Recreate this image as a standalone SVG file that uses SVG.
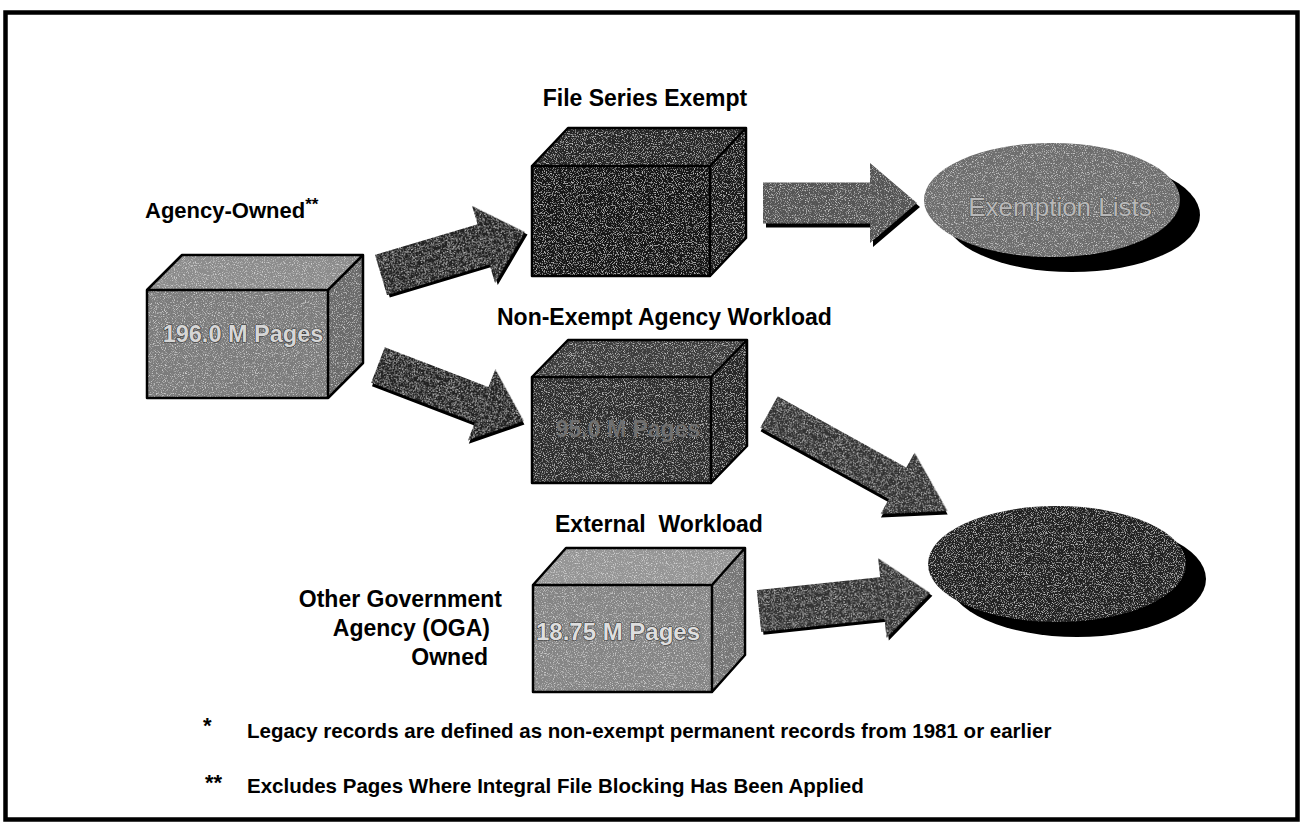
<svg xmlns="http://www.w3.org/2000/svg" width="1304" height="825" viewBox="0 0 1304 825">
<defs>
<filter id="grain" x="0" y="0" width="1" height="1">
  <feTurbulence type="fractalNoise" baseFrequency="0.9" numOctaves="2" seed="7" result="noise"/>
  <feColorMatrix in="noise" type="matrix" values="0 0 0 0 1  0 0 0 0 1  0 0 0 0 1  4 0 0 0 -2.1" result="dots"/>
  <feComposite in="dots" in2="SourceAlpha" operator="in" result="d2"/>
  <feComponentTransfer in="d2" result="d3"><feFuncA type="linear" slope="0.5"/></feComponentTransfer>
  <feMerge><feMergeNode in="SourceGraphic"/><feMergeNode in="d3"/></feMerge>
</filter>
</defs>
<style>
text{font-family:"Liberation Sans",Arial,sans-serif;font-weight:bold;fill:#000}
.title{font-size:23px}
.foot{font-size:20.5px}
.edge{fill:none;stroke:#000;stroke-width:2.5;stroke-linejoin:round}
.shadow{fill:#000}
.tex{filter:url(#grain)}
.lbl{font-size:23.5px;stroke-width:1.2;paint-order:stroke;stroke-linejoin:round}
</style>
<rect x="5.5" y="12.5" width="1292" height="807" fill="#fff" stroke="#000" stroke-width="4.5"/>

<g id="connectors">
  <g id="arrow-owned-exempt" transform="translate(381,275) rotate(-16.6)">
    <path class="shadow" transform="translate(2,3)" d="M0,-21 L107,-21 L107,-40 L150,0 L107,40 L107,21 L0,21 Z"/>
    <path class="tex" fill="#222" d="M0,-21 L107,-21 L107,-40 L150,0 L107,40 L107,21 L0,21 Z"/>
  </g>
  <g id="arrow-owned-nonexempt" transform="translate(378,365) rotate(21)">
    <path class="shadow" transform="translate(2,3)" d="M0,-19 L111,-19 L111,-38 L156,0 L111,38 L111,19 L0,19 Z"/>
    <path class="tex" fill="#222" d="M0,-19 L111,-19 L111,-38 L156,0 L111,38 L111,19 L0,19 Z"/>
  </g>
  <g id="arrow-exempt-lists" transform="translate(763,203)">
    <path class="shadow" transform="translate(3,4)" d="M0,-20.5 L107,-20.5 L107,-40 L154,0 L107,40 L107,20.5 L0,20.5 Z"/>
    <path class="tex" fill="#555" d="M0,-20.5 L107,-20.5 L107,-40 L154,0 L107,40 L107,20.5 L0,20.5 Z"/>
  </g>
  <g id="arrow-nonexempt-review" transform="translate(769,412) rotate(29)">
    <path class="shadow" transform="translate(2,3)" d="M0,-18 L147,-18 L147,-35 L204,0 L147,35 L147,18 L0,18 Z"/>
    <path class="tex" fill="#333" d="M0,-18 L147,-18 L147,-35 L204,0 L147,35 L147,18 L0,18 Z"/>
  </g>
  <g id="arrow-external-review" transform="translate(759,611) rotate(-6)">
    <path class="shadow" transform="translate(2,3)" d="M0,-21 L124,-21 L124,-40 L172,0 L124,40 L124,21 L0,21 Z"/>
    <path class="tex" fill="#333" d="M0,-21 L124,-21 L124,-40 L172,0 L124,40 L124,21 L0,21 Z"/>
  </g>
</g>

<g id="agency-owned">
  <text class="title" x="145" y="218" style="font-size:22px">Agency-Owned<tspan dy="-8" style="font-size:17px">**</tspan></text>
  <rect class="tex" x="147" y="290" width="181" height="108" fill="#7c7c7c"/>
  <path class="tex" d="M147,290 L182,255 L363,255 L328,290 Z" fill="#8c8c8c"/>
  <path class="tex" d="M328,290 L363,255 L363,363 L328,398 Z" fill="#6a6a6a"/>
  <path class="edge" d="M147,290 H328 V398 H147 Z M147,290 L182,255 H363 L328,290 M363,255 V363 L328,398"/>
  <text class="lbl" x="243" y="342" text-anchor="middle" style="fill:#d6d6d6;stroke:#333">196.0 M Pages</text>
</g>

<g id="file-series-exempt">
  <text class="title" x="645" y="106" text-anchor="middle">File Series Exempt</text>
  <rect class="tex" x="532" y="166" width="178" height="110" fill="#151515"/>
  <path class="tex" d="M532,166 L568,128 L746,128 L710,166 Z" fill="#262626"/>
  <path class="tex" d="M710,166 L746,128 L746,238 L710,276 Z" fill="#1c1c1c"/>
  <path class="edge" d="M532,166 H710 V276 H532 Z M532,166 L568,128 H746 L710,166 M746,128 V238 L710,276"/>
</g>

<g id="exemption-lists">
  <ellipse cx="1072" cy="215" rx="128" ry="57" fill="#000"/>
  <ellipse class="tex" cx="1052" cy="200" rx="128" ry="57" fill="#6e6e6e"/>
  <text x="1060" y="216" text-anchor="middle" style="font-size:26px;font-weight:normal;fill:#b8b8b8;stroke:#4a4a4a;stroke-width:0.9;paint-order:stroke">Exemption Lists</text>
</g>

<g id="non-exempt-workload">
  <text class="title" x="497" y="325">Non-Exempt Agency Workload</text>
  <rect class="tex" x="532" y="377" width="179" height="106" fill="#2e2e2e"/>
  <path class="tex" d="M532,377 L568,340 L747,340 L711,377 Z" fill="#3e3e3e"/>
  <path class="tex" d="M711,377 L747,340 L747,446 L711,483 Z" fill="#282828"/>
  <path class="edge" d="M532,377 H711 V483 H532 Z M532,377 L568,340 H747 L711,377 M747,340 V446 L711,483"/>
  <text class="lbl" x="628" y="437" text-anchor="middle" style="font-size:23px;fill:#707070;stroke:none">95.0 M Pages</text>
</g>

<g id="review-ellipse">
  <ellipse cx="1077" cy="579" rx="129" ry="58" fill="#000"/>
  <ellipse class="tex" cx="1057" cy="564" rx="129" ry="58" fill="#222"/>
</g>

<g id="external-workload">
  <text class="title" x="555" y="532" xml:space="preserve">External  Workload</text>
  <rect class="tex" x="533" y="585" width="179" height="107" fill="#858585"/>
  <path class="tex" d="M533,585 L566,548 L745,548 L712,585 Z" fill="#959595"/>
  <path class="tex" d="M712,585 L745,548 L745,655 L712,692 Z" fill="#767676"/>
  <path class="edge" d="M533,585 H712 V692 H533 Z M533,585 L566,548 H745 L712,585 M745,548 V655 L712,692"/>
  <text class="lbl" x="618" y="640" text-anchor="middle" style="font-size:24px;fill:#dedede;stroke:#333">18.75 M Pages</text>
</g>

<g id="oga-owned">
  <text class="title" x="502" y="607" text-anchor="end">Other Government</text>
  <text class="title" x="490" y="636" text-anchor="end">Agency (OGA)</text>
  <text class="title" x="488" y="665" text-anchor="end">Owned</text>
</g>

<g id="footnotes">
  <text class="foot" x="203" y="733" style="font-size:22px">*</text>
  <text class="foot" x="247" y="738">Legacy records are defined as non-exempt permanent records from 1981 or earlier</text>
  <text class="foot" x="205" y="790" style="font-size:22px">**</text>
  <text class="foot" x="247" y="793">Excludes Pages Where Integral File Blocking Has Been Applied</text>
</g>
</svg>
